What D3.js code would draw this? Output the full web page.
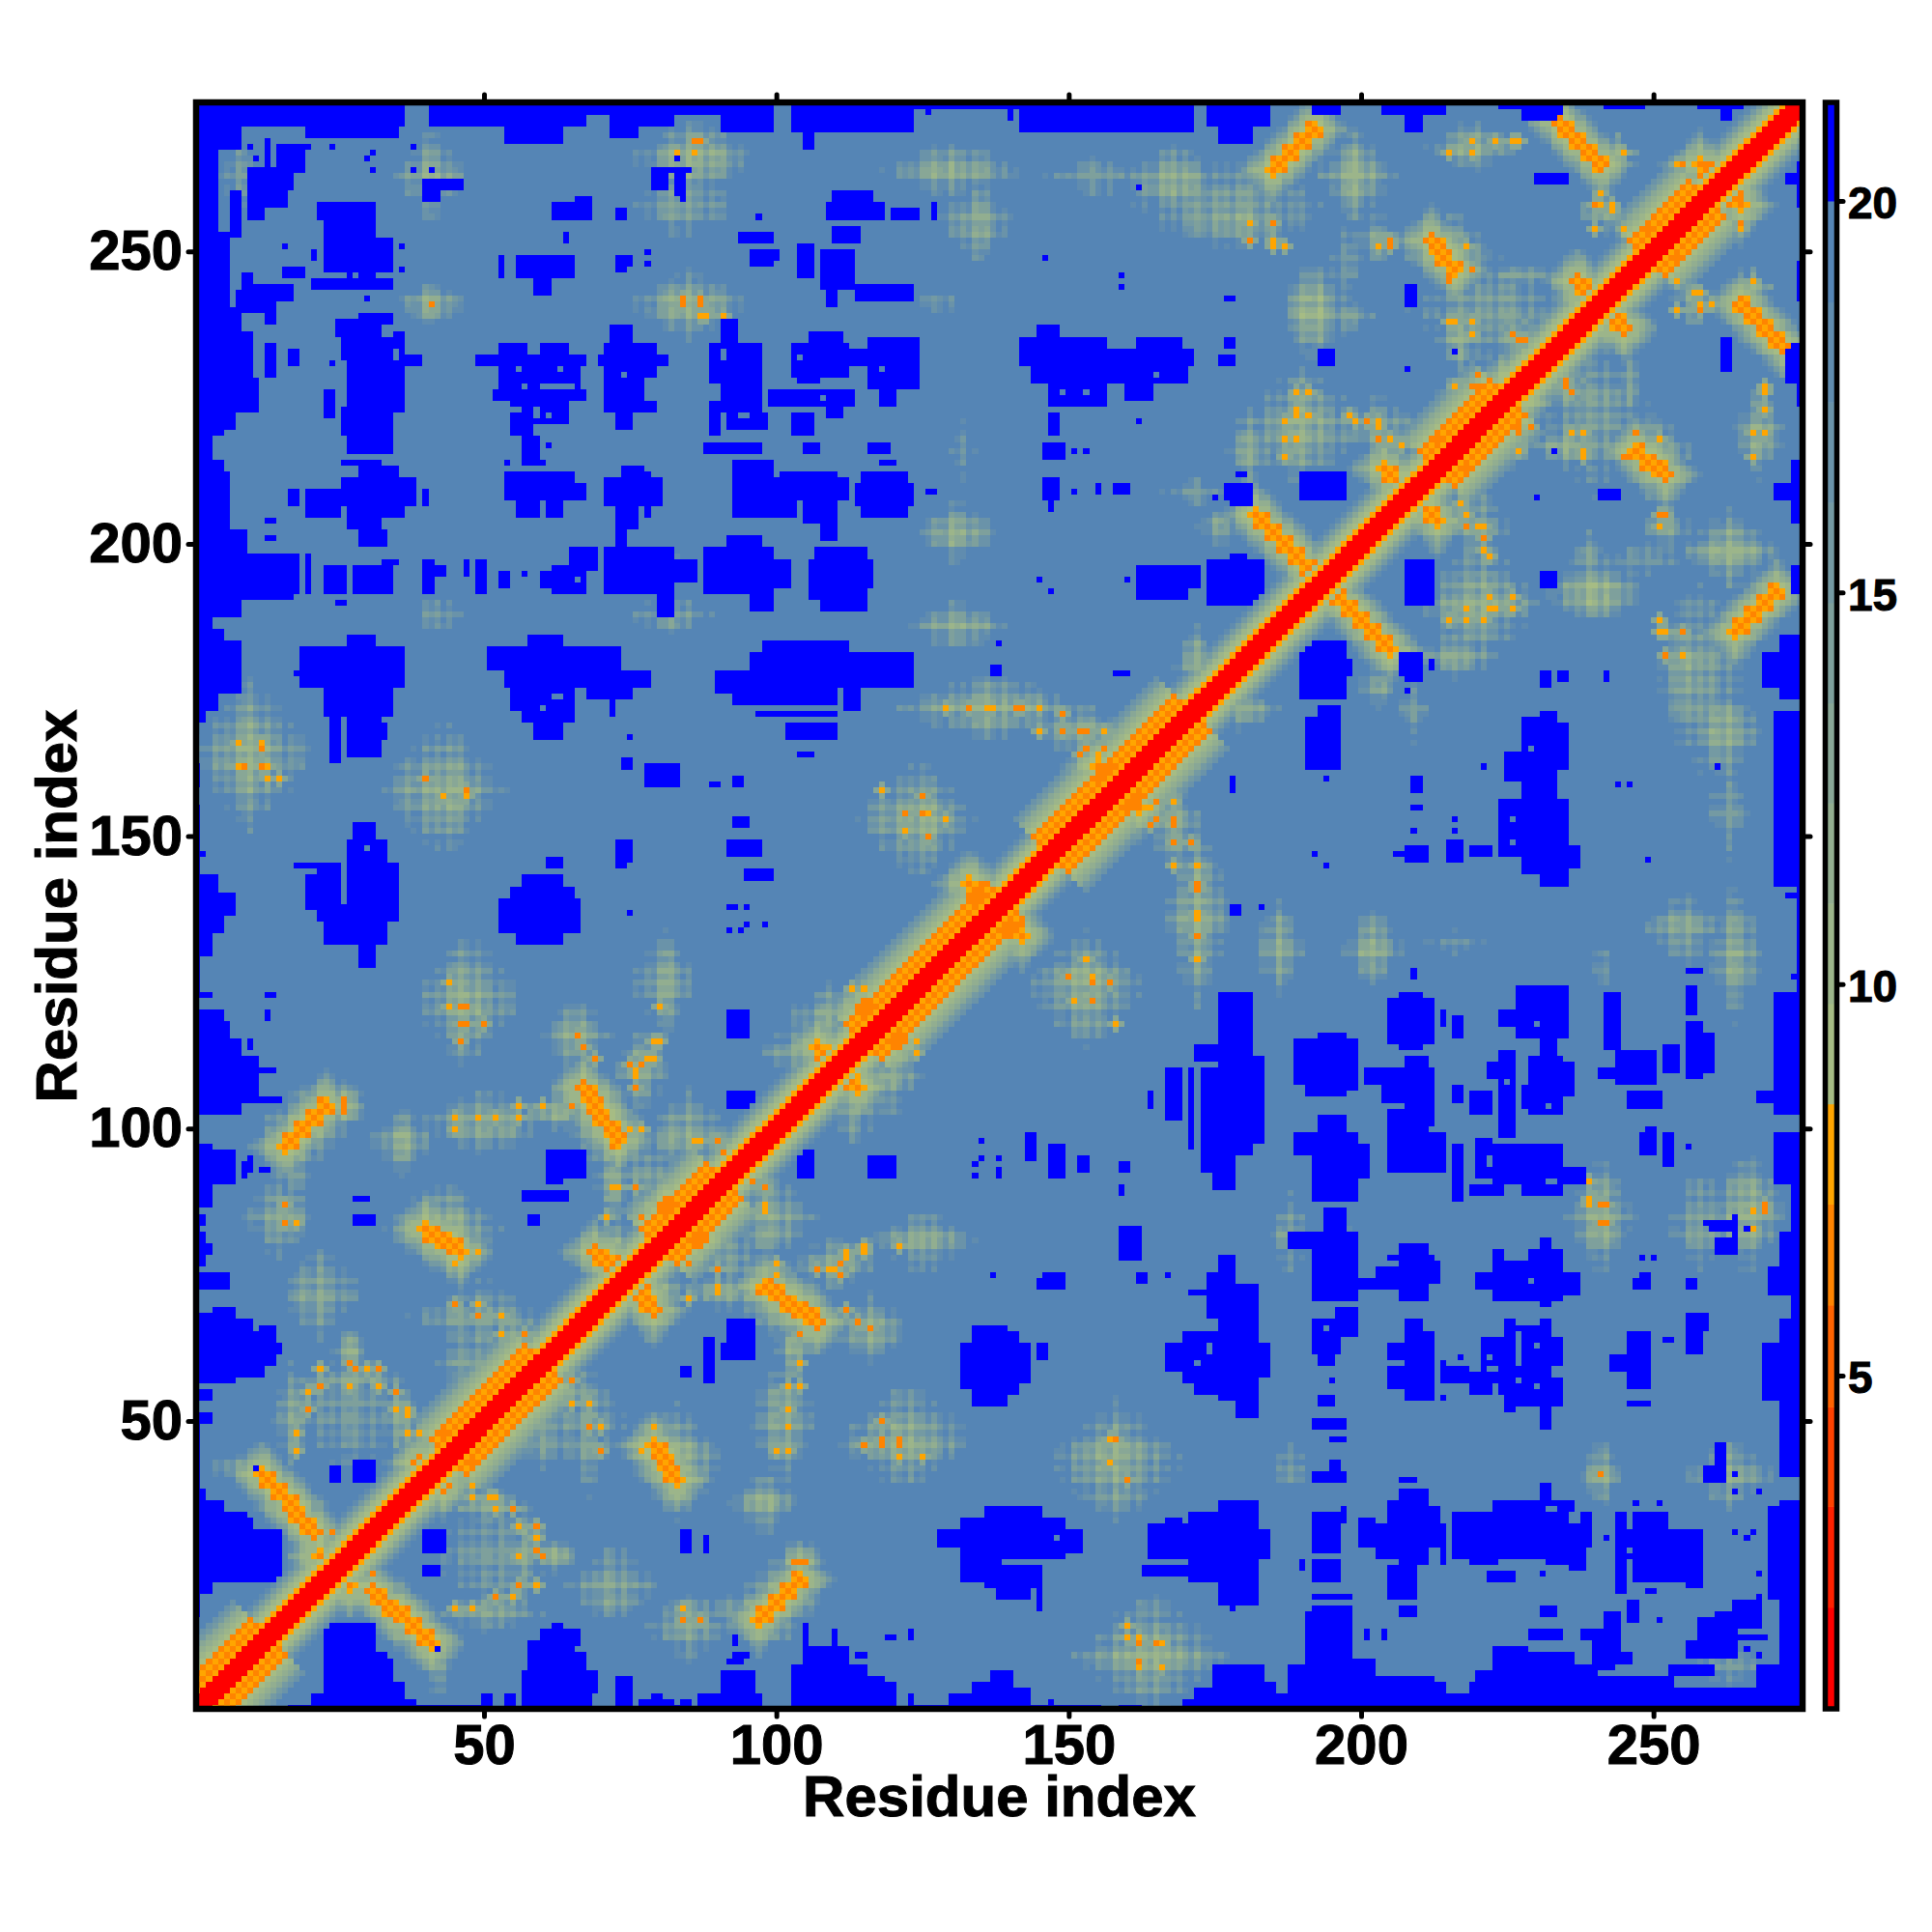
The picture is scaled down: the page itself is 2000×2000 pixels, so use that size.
<!DOCTYPE html>
<html lang="en">
<head>
<meta charset="UTF-8">
<title>Residue distance map</title>
<script src="https://cdnjs.cloudflare.com/ajax/libs/d3/7.8.5/d3.min.js"></script>
<style>
  html, body { margin: 0; background: #fff; }
  text { font-family: "Liberation Sans", Arial, sans-serif; font-weight: bold; fill: #000; stroke: #000; stroke-width: 1px; }
</style>
</head>
<body>
<div id="chart"></div>
<script>
// axis
var residueCount = 275;
var tickValues = [50, 100, 150, 200, 250];
var legendTicks = [5, 10, 15, 20];

// colour key: band edges and the colour of each band
var legendBreaks = [0.77, 2.04, 3.33, 4.6, 5.9, 7.19, 8.47, 9.75, 11.03, 12.31, 13.59, 14.87, 16.15, 17.43, 18.71, 20, 21.25];
var legendColors = ["#FF0000", "#FF2100", "#FF4200", "#FF6300", "#FF8400", "#FFA500",
  "#A6BC84", "#9CB58A", "#92AE90", "#88A796", "#7EA09C", "#749AA3", "#6A93A9", "#608CAF", "#5585B5", "#0000FF"];

// everything is symmetric so only one side of the diagonal is listed
var backgroundValue = 19.5;
var blueValue = 21;

// distance by offset from the diagonal
var helixProfile = [1.5, 1.5, 1.5, 7.6, 6.5, 7.8, 6.8, 9.4, 10.5, 12, 13.5, 15, 17];
var coilProfile = [1.5, 1.5, 1.5, 7.6, 9.5, 11, 13, 15, 18];
var helixSegments = [[2, 13], [44, 60], [80, 91], [115, 139], [147, 171], [213, 225], [249, 259]];

// blue blocks: x from, x to, y from, y to
var edgeBlue = [
  [1,36,272,275],[20,35,270,272],[1,8,268,272],[1,4,253,268],[1,6,240,253],[1,8,236,240],[1,10,228,236],[1,11,223,228],
  [1,7,220,223],[1,5,219,220],[1,3,214,219],[1,5,212,214],[1,6,202,212],[1,9,198,202],[1,17,191,198],[1,8,188,191],
  [1,3,185,188],[1,5,183,185],[1,8,175,183],[1,4,172,175],[1,2,170,172],[1,1,159,162],[1,1,132,155],[1,2,147,147],
  [1,4,140,143],[1,7,137,140],[1,5,134,137],[1,3,130,134],[1,1,123,130],[1,3,123,123],[1,5,118,120],[1,6,115,118],
  [1,8,112,115],[1,11,105,112],[1,14,110,110],[1,15,105,105],[1,8,103,105],[1,3,96,96],[1,7,92,96],[1,3,90,92],[1,2,88,90],
  [1,1,80,85],[4,7,68,69],[1,10,65,67],[1,14,60,65],[1,15,62,63],[1,11,58,60],[1,6,57,57],[1,2,54,55],[1,3,50,51],[1,1,46,49],
  [1,1,38,45],[1,2,36,37],[1,5,34,36],[1,9,31,34],[1,15,28,30],[1,15,23,28],[1,3,21,22],[1,1,17,21],
  [41,67,272,275],[54,63,269,272],[68,71,274,275],[72,76,270,275],[77,82,272,275],[83,90,274,275],[91,99,271,275],
  [103,123,271,275],[105,106,268,270],[124,141,275,275],[126,126,274,274],[140,140,273,275],[142,171,271,275],
  [174,184,272,275],[176,181,269,272],[192,196,274,275],[204,214,274,275],[208,210,271,274],[224,228,275,275],[228,234,273,275],
  [242,248,275,275],[258,265,275,275],[262,263,273,275]
];
var upperLeftBlue = [
  [10,17,261,264],[10,16,258,261],[10,12,256,258],[7,8,253,260],[15,19,264,268],[13,13,265,269],[10,10,268,268],[11,11,266,266],
  [20,20,268,268],[24,24,268,268],[31,31,267,267],[30,30,266,266],[31,31,264,264],[38,38,268,268],[38,38,264,264],[41,41,264,264],
  [40,46,261,262],[40,42,259,261],[79,85,264,264],[79,81,261,264],[83,84,260,264],[84,84,259,261],[83,83,266,266],
  [62,68,256,258],[66,68,258,259],[64,64,258,258],[73,74,256,257],[97,97,256,256],[64,64,252,253],
  [56,65,246,249],[53,53,246,249],[59,61,243,245],[73,74,247,249],[75,75,248,249],[78,78,248,248],[78,78,250,250],
  [9,10,240,246],[10,17,242,244],[8,14,240,243],[13,14,238,240],[30,30,242,242],[17,18,231,233],[13,14,229,234],[24,24,231,231],
  [22,31,256,258],[23,31,252,255],[23,34,247,252],[27,31,245,247],[21,34,244,245],[16,16,251,251],[16,19,246,247],[21,21,249,250],[36,36,251,251],[36,36,247,247],
  [29,34,238,239],[25,34,236,238],[26,36,232,236],[27,39,231,232],[27,36,223,231],[26,34,219,223],[27,34,216,219],[29,32,216,216],[26,32,214,214],[23,24,222,226],
  [29,35,211,213],[26,38,207,211],[27,36,205,206],[27,32,203,204],[29,33,200,202],[20,25,205,209],[17,18,207,209],[13,14,204,204],[40,40,207,209],
  [53,57,232,234],[60,64,232,234],[49,67,231,232],[53,66,227,231],[52,67,225,226],[55,64,221,224],[55,58,219,220],[57,59,214,218],[61,61,217,217],[54,54,214,214],[60,60,214,214],
  [72,75,234,237],[71,79,229,234],[70,81,231,232],[71,77,223,229],[72,79,223,224],[73,75,220,222],
  [91,93,235,238],[89,97,228,234],[91,97,223,228],[89,90,219,224],[92,98,220,222],[88,97,216,217],
  [93,99,208,214],[93,99,205,207],[71,80,207,211],[73,76,203,207],[74,77,211,213],[78,78,205,212],[73,74,200,202],
  [54,59,208,212],[60,65,211,212],[54,67,208,210],[56,59,205,207],[61,63,205,207],
  [71,82,192,199],[82,86,194,197],[88,99,192,199],[92,97,199,201],[62,67,192,196],[65,69,196,199],[23,26,192,196],[28,34,192,196],[18,18,192,198],[20,20,192,198],
  [80,82,188,192],[33,35,197,197],[40,41,192,197],[40,43,195,196],[47,47,195,197],[49,50,192,197],[53,54,193,195],[57,57,195,195],[60,62,193,195],[25,26,190,190],[13,14,201,201]
];
var upperMidBlue = [
  [110,116,259,260],[109,118,256,258],[120,123,256,257],[124,124,256,257],[127,127,256,258],[110,114,252,254],[104,106,246,251],[108,113,248,250],[108,113,244,247],
  [109,110,241,244],[114,123,242,244],[94,99,252,253],[96,99,248,250],[99,100,249,250],
  [106,111,234,236],[103,112,229,234],[104,107,228,229],[112,115,231,233],[116,124,227,235],[118,120,224,227],[99,113,224,226],[109,111,222,226],[103,106,219,222],
  [105,107,216,217],[116,119,216,217],[118,120,214,214],[115,122,205,212],[114,123,207,210],[126,127,209,209],[101,110,211,212],[97,112,208,211],[98,103,205,208],[105,110,204,208],
  [145,148,235,237],[142,156,233,235],[142,171,231,233],[144,170,228,231],[147,156,224,228],[160,164,225,228],[162,169,233,235],[176,178,231,232],[177,178,234,235],
  [147,148,219,222],[146,149,215,217],[151,151,216,216],[153,153,216,216],[146,148,208,211],[147,147,206,207],[151,151,209,209],[155,155,209,210],[158,160,209,210],
  [162,170,191,195],[174,183,190,197],[178,180,197,198],[108,110,201,203],[107,115,198,199],[106,116,193,197],[106,115,191,193],[108,115,189,191],[96,102,193,197],[96,99,189,193],
  [98,112,179,183],[112,123,179,181],[96,123,176,181],[96,110,173,176],[102,110,167,169],[97,110,171,171],[104,106,164,164],[112,114,172,175],
  [137,138,178,179],[158,160,178,178],[146,146,249,249],[159,159,246,246],[159,159,244,244],[177,178,242,242],[162,162,221,221],[162,162,261,261],
  [179,180,212,212],[177,179,208,210],[175,175,208,208],[138,138,183,183],[145,145,194,194],[147,147,192,192],[160,160,194,194],
  [230,235,262,263],[208,209,241,244],[216,216,233,233],[193,195,231,233],[208,208,230,230],[191,197,208,212],[208,212,190,197],[231,232,193,194],[190,196,174,183],[193,196,162,172],[207,210,178,181]
];
var lowerLeftBlue = [
  [19,36,176,182],[27,31,183,184],[23,34,171,176],[27,32,164,171],[24,25,163,171],[32,33,167,169],[18,19,178,178],
  [51,73,179,182],[58,63,182,184],[54,78,176,178],[55,65,172,175],[68,75,174,177],[57,65,170,172],[59,63,167,170],[72,72,171,174],[75,75,167,167],
  [90,99,175,178],[93,98,173,175],[28,31,150,152],[27,33,145,149],[22,35,136,145],[23,33,132,135],[29,31,128,131],[18,21,145,145],[20,21,138,143],
  [61,63,145,146],[57,63,142,143],[55,65,139,141],[53,66,134,139],[56,63,132,134],[73,75,146,149],[73,74,145,145],
  [74,75,162,163],[78,83,159,162],[89,90,159,159],[93,94,159,160],[93,95,152,153],[92,97,147,149],[95,99,143,144],[92,93,138,138],[95,95,138,138],[95,95,135,135],[98,98,135,135],[92,92,134,134],[94,94,134,134],[75,75,137,137],
  [92,95,116,120],[92,96,104,106],[61,67,92,96],[61,63,91,93],[57,64,88,89],[58,59,84,85],[28,30,88,88],[28,31,84,85],[10,10,93,95],[9,9,93,93],[13,13,93,93],
  [10,10,114,115],[13,14,123,123],[13,13,119,120],[24,25,40,42],[28,31,40,43],[11,11,42,42],
  [23,26,12,14],[27,31,10,15],[23,33,7,10],[23,34,1,7],[33,36,1,5],[21,23,1,3],[37,38,1,2],[17,21,1,1],[42,42,11,11],
  [60,66,12,14],[58,64,9,12],[58,67,10,10],[59,67,8,8],[57,69,5,7],[57,68,1,4],[50,51,1,3],[54,55,1,3],
  [73,75,1,6],[77,78,1,2],[79,80,1,3],[81,82,1,2],[84,85,1,2],[87,90,1,3],[91,95,1,7],[95,97,1,3],[92,94,9,9],[93,93,12,12]
];
// holes inside the blue blocks
var blueGaps = [
  [26,26,139,145],[56,56,230,230],[63,63,230,230],[60,65,227,227],[57,57,227,227],[55,56,223,223],[59,59,222,223],[61,61,222,222],
  [91,91,232,233],[94,95,222,222],[33,34,236,237],[35,35,232,233],[74,74,229,229],[28,28,246,246],[60,60,172,172],[62,63,174,174],
  [30,30,148,148],[108,108,225,225],[118,118,230,230],[104,104,232,232],[149,149,226,226],[153,153,226,226],[165,165,229,229],[66,66,194,194]
];

// soft glow patches: centre x, centre y, reach x, reach y, lowest value
var glowPatches = [
  [8,263,3,6,14],[41,263,5,7,11],[86,266,9,6,10],[84,258,8,5,13],[41,241,5,3.5,10],[85,241,9,5,10],[42,188,4,3,14],[82,188,7,3,13],[83,197,2,2,15],
  [10,164,9,11,11],[43,158,9,10,11],[47,122,8,10,11],[81,125,5,8,12],[66,116,5,6,11],[77,110,4,7,11],
  [19,100,7,6,9],[26,104,4,4,10],[36,98,5,5,11],[50,101,10,5,11],[62,103,6,3,11],[71,100,6,7,9],[85,98,10,3,11],[72,91,3,7,12],
  [15,85,5,7,12],[17,92,3,4,14],[22,72,6,7,12],[27,62,3,4,11],[43,83,9,7,10],[46,68,8,3,13],[72,79,8,5,11],
  [17,51,3,8,12],[27,57,8,3,12],[35,51,3,7,12],[27,52,11,9,14],[8,42,5,2,12],[51,68,7,3,12],[56,65,4,4,12],[50,67,9,6,13],[48,60,6,5,13],[85,100,6,6,12],[78,92,6,5,13],
  [130,264,11,4,11],[134,255,6,6,12],[155,263,8,3,14],[168,262,7,6,10],[178,255,13,3,11],[178,258,14,7,13],[192,240,5,8,9],[190,220,10,9,11],[181,216,4,6,12],[199,263,6,7,10],
  [172,209,5,2,14],[176,203,4,3,12],[131,202,6,4.5,10],[131,186,7,4,11],[132,216,2,5,15],[128,241,5,1.5,15],[172,180,4,5,12],
  [137,172,15,5,11],[152,168,8,4,12],[124,153,9,9,11],[109,119,7,5,12],[105,113,7,5,12],
  [219,268,7,4,11],[244,267,3,3,11],[257,265,5,3,11],[241,257,4,4,12],[203,252,4,4,12],[197,239,5,3,13],[215,250,7,6,11],[217,235,4,5,11],[222,240,12,8,13],[228,246,7,2,13],[227,235,5,4,12],[218,226,5,4,12],[203,220,6,5,12],
  [197,248,3,6,15],[238,226,3,3,14]
];
var glowSpread = 1.25;

// lattice texture: small value shifts per residue, read as a repeating stripe
var latticeX = [0, -1.5, 1, 2.2, -1, 1.4, 0.4, 2.6, -0.6];
var latticeY = [1.6, -1, 0.6, 2.4, -1.2, 1, 0];

// strands: x0, y0, x1, y1, value
var strands = [
  [12,41,21,31,6.6],[16,97,23,104,6.6],[67,107,73,98,6.8],[40,83,46,79,6.6],[185,264,192,271,6.8],[234,272,241,265,7],[212,252,216,247,6.6],
  [182,205,191,196,6.8],[204,213,208,209,6.6],[237,245,240,241,6.8],[133,142,137,137,6.6],[107,114,111,109,6.6],[115,121,117,118,6.6],[155,162,159,158,6.6],
  [69,79,75,74,6.6],[22,27,26,24,6.6],[43,48,47,45,6.6],[39,43,41,41,6.6],[81,87,85,83,6.6],[249,254,252,252,6.6],[258,265,260,263,6.8],[224,227,226,225,6.6],[213,218,216,215,6.6]
];
var strandHalo = [9.6, 10.5, 12.5, 15, 18];

// single contacts: x, y, value
var spots = [
  [41,241,6],[86,269,6],[87,269,6.4],[83,267,7.6],[86,267,7.6],[84,242,6.4],[84,241,6.4],[87,242,6.4],[87,241,6.4],[87,239,7.6],[88,239,7.6],[91,239,7.6],
  [8,166,7.6],[12,166,7.6],[12,165,6],[8,162,7.6],[9,162,6],[12,162,6],[13,162,7.6],[13,160,7.6],[15,160,7.6],
  [40,160,6.5],[43,157,7.6],[47,158,6],[47,157,7.6],[44,125,7.6],[44,121,7.6],[46,121,6],[47,121,6.5],[46,118,7],[47,118,7],[50,118,6.5],[46,115,6],
  [80,121,7.6],[66,116,6.5],[67,114,6],[69,112,6],[79,115,7.6],[80,115,7.6],[78,112,7.6],[79,112,7.6],[75,111,6],[76,110,7.6],[76,109,7.6],[77,111,6.5],[76,107,6],
  [56,104,7.6],[60,104,7.6],[65,104,6],[45,102,7.6],[49,102,7.6],[52,102,7.6],[56,102,7.6],[45,100,7.6],[75,100,7.6],[77,100,7.6],[86,98,7.6],[87,98,7.6],[90,98,6],[91,96,6.5],
  [72,90,7.6],[73,90,7.6],[76,90,6],[71,85,7.6],[77,85,6],[16,87,6],[16,84,6],[18,84,7.6],[26,103,6],[26,104,6],[26,105,6],
  [45,77,7.6],[49,79,7.6],[45,70,6],[49,70,7.6],[49,68,6],[53,68,7.6],[53,65,7.6],[57,65,6.5],[57,63,7.6],
  [22,59,7.6],[27,60,6.5],[28,59,6],[30,59,7.6],[32,59,6],[22,56,6.5],[27,56,7.6],[32,56,7.6],[20,55,7.6],[35,55,6],[20,52,6],[35,52,7.6],[37,52,7.6],[37,51,7.6],[18,48,7.6],[37,48,7.6],[39,48,7.6],[18,45,7.6],[24,31,6],[27,31,6],
  [129,172,7.6],[133,172,6.5],[136,172,7.6],[137,172,7.6],[141,172,6],[142,172,6.5],[145,172,7.6],[149,171,6.5],[145,168,7.6],[149,168,6.5],[152,168,6.5],[153,168,6],[156,168,7.6],[153,165,6],[156,165,6],[152,164,6.5],[155,164,7.6],[158,164,7.6],
  [118,158,7.6],[125,157,6.5],[122,154,6],[125,154,6],[126,154,7.6],[129,153,7.6],[122,151,7.6],[126,150,6],[113,124,7.6],[115,124,7.6],[107,114,6],[109,114,7.6],
  [215,267,7.6],[219,269,7.6],[219,267,7.6],[223,269,7.6],[226,269,7.6],[227,269,7.6],[245,267,7.6],[254,265,7.6],[255,265,6.5],[258,265,6.5],[259,265,6.5],[259,262,6.5],
  [241,260,7.6],[240,258,6.5],[241,258,7.6],[243,258,7.6],[243,257,7.6],[240,254,7.6],[245,254,7.6],[181,255,7.6],[185,255,6.5],[181,252,6.5],[185,252,7.6],[185,251,7.6],[187,251,7.6],[203,251,7.6],[205,251,6],[205,252,6],
  [218,251,7.6],[219,247,6.5],[215,245,6],[215,238,7.6],[216,238,7.6],[219,238,7.6],[219,236,7.6],[226,236,6.5],[227,235,6.5],[228,235,6.5],
  [216,227,7.6],[219,227,6.5],[220,227,6.5],[220,229,6],[189,226,7.6],[191,226,7.6],[187,221,7.6],[189,222,7.6],[189,223,7.6],[191,222,7.6],[198,222,7.6],[199,221,7.6],[201,221,6.5],[203,221,7.6],[203,220,7.6],[187,218,7.6],[189,218,7.6],[203,218,6.5],[205,218,7.6],[207,217,7.6],[187,215,7.6]
];

var z = d3.range(residueCount + 1).map(function () {
  return new Float32Array(residueCount + 1).fill(backgroundValue);
});

function lower(x, y, v) {
  if (x < 1 || y < 1 || x > residueCount || y > residueCount) return;
  if (v < z[y][x]) { z[y][x] = v; z[x][y] = v; }
}

// glow first, blue is painted over it
glowPatches.forEach(function (p) {
  var rx = p[2] * glowSpread, ry = p[3] * glowSpread;
  for (var x = Math.floor(p[0] - rx); x <= p[0] + rx; x++) {
    for (var y = Math.floor(p[1] - ry); y <= p[1] + ry; y++) {
      if (x < 1 || y < 1) continue;
      var reach = Math.pow(Math.abs(x - p[0]) / rx, 1.1) + Math.pow(Math.abs(y - p[1]) / ry, 1.1);
      if (reach >= 1) continue;
      var v = p[4] + (backgroundValue - p[4]) * Math.pow(reach, 1.3) + latticeX[x % 9] + latticeY[y % 7];
      lower(x, y, Math.max(p[4], v));
    }
  }
});

function strandPoints(s) {
  var steps = Math.max(Math.abs(s[2] - s[0]), Math.abs(s[3] - s[1]));
  return d3.range(steps + 1).map(function (k) {
    return [Math.round(s[0] + (s[2] - s[0]) * k / steps), Math.round(s[1] + (s[3] - s[1]) * k / steps)];
  });
}
var haloReach = strandHalo.length + 1;
strands.forEach(function (s) {
  strandPoints(s).forEach(function (pt) {
    for (var dx = -haloReach; dx <= haloReach; dx++) {
      for (var dy = -haloReach; dy <= haloReach; dy++) {
        var dist = Math.abs(dx) + Math.abs(dy);
        if (dist >= 2 && dist - 2 < strandHalo.length) lower(pt[0] + dx, pt[1] + dy, strandHalo[dist - 2] + latticeX[(pt[0] + dx + 270) % 9] * 0.5);
      }
    }
  });
});
spots.forEach(function (s) {
  [[1, 0], [-1, 0], [0, 1], [0, -1]].forEach(function (o) { lower(s[0] + o[0], s[1] + o[1], 12.5); });
});

[edgeBlue, upperLeftBlue, upperMidBlue, lowerLeftBlue].forEach(function (list) {
  list.forEach(function (b) {
    for (var x = b[0]; x <= b[1]; x++) {
      for (var y = b[2]; y <= b[3]; y++) {
        z[y][x] = blueValue;
        z[x][y] = blueValue;
      }
    }
  });
});
blueGaps.forEach(function (b) {
  for (var x = b[0]; x <= b[1]; x++) {
    for (var y = b[2]; y <= b[3]; y++) {
      z[y][x] = backgroundValue;
      z[x][y] = backgroundValue;
    }
  }
});

// contacts and diagonal go on top
strands.forEach(function (s) {
  var anti = (s[2] - s[0]) * (s[3] - s[1]) < 0;
  var across = anti ? [[1, 1], [-1, -1]] : [[1, -1], [-1, 1]];
  strandPoints(s).forEach(function (pt, k) {
    var core = [[0, 0], [1, 0], [0, 1], [-1, 0], [0, -1]].concat(k % 2 ? across : []);
    core.forEach(function (o) {
      var cx = pt[0] + o[0], cy = pt[1] + o[1];
      var v = (cx + cy) % 2 ? s[4] : s[4] + 1;
      z[cy][cx] = v; z[cx][cy] = v;
    });
  });
});
spots.forEach(function (s) { z[s[1]][s[0]] = s[2]; z[s[0]][s[1]] = s[2]; });

function inHelix(m) {
  return helixSegments.some(function (h) { return m >= h[0] && m <= h[1]; });
}
for (var i = 1; i <= residueCount; i++) {
  for (var j = i; j <= residueCount; j++) {
    var profile = inHelix((i + j) / 2) ? helixProfile : coilProfile;
    var d = j - i;
    if (d < profile.length) {
      if (d < 5 || profile[d] < z[j][i]) { z[j][i] = profile[d]; z[i][j] = profile[d]; }
    }
  }
}

var cells = [];
for (var yi = 1; yi <= residueCount; yi++) {
  for (var xi = 1; xi <= residueCount; xi++) {
    cells.push({ x: xi, y: yi, v: z[yi][xi] });
  }
}

var width = 2000, height = 2000;
var plotLeft = 204.4, plotRight = 1863, plotTop = 109, plotBottom = 1767.5;

var xScale = d3.scaleLinear().domain([1, residueCount]).range([plotLeft, plotRight]);
var yScale = d3.scaleLinear().domain([1, residueCount]).range([plotBottom, plotTop]);
var color = d3.scaleThreshold().domain(legendBreaks.slice(1, -1)).range(legendColors);
var legendY = d3.scaleLinear().domain([5, 20]).range([1424, 208]);

var svg = d3.select("#chart").append("svg")
  .attr("width", width)
  .attr("height", height);

svg.append("defs").append("clipPath")
  .attr("id", "plot-clip")
  .append("rect")
  .attr("x", 203).attr("y", 106).attr("width", 1663).attr("height", 1663);

svg.append("g")
  .attr("clip-path", "url(#plot-clip)")
  .attr("shape-rendering", "crispEdges")
  .selectAll("rect")
  .data(cells)
  .enter().append("rect")
  .attr("x", function (d) { return xScale(d.x - 0.5); })
  .attr("y", function (d) { return yScale(d.y + 0.5); })
  .attr("width", xScale(2) - xScale(1) + 0.5)
  .attr("height", yScale(1) - yScale(2) + 0.5)
  .attr("fill", function (d) { return color(d.v); });

function styleTicks(g) {
  g.select(".domain").remove();
  g.selectAll(".tick line")
    .attr("stroke", "#000")
    .attr("stroke-width", 5)
    .attr("stroke-linecap", "round");
}

svg.append("g")
  .attr("transform", "translate(0,1769)")
  .call(d3.axisBottom(xScale).tickValues(tickValues).tickSize(8).tickPadding(8))
  .call(styleTicks)
  .selectAll("text").style("font-size", "58px").attr("fill", "#000");
svg.append("g")
  .attr("transform", "translate(0,106)")
  .call(d3.axisTop(xScale).tickValues(tickValues).tickSize(8).tickFormat(""))
  .call(styleTicks);
svg.append("g")
  .attr("transform", "translate(203,0)")
  .call(d3.axisLeft(yScale).tickValues(tickValues).tickSize(8).tickPadding(6))
  .call(styleTicks)
  .selectAll("text").style("font-size", "58px").attr("fill", "#000");
svg.append("g")
  .attr("transform", "translate(1866,0)")
  .call(d3.axisRight(yScale).tickValues(tickValues).tickSize(8).tickFormat(""))
  .call(styleTicks);

svg.append("rect")
  .attr("x", 203).attr("y", 106).attr("width", 1663).attr("height", 1663)
  .attr("fill", "none").attr("stroke", "#000").attr("stroke-width", 6.5);

svg.append("text")
  .attr("x", 1034.5).attr("y", 1880)
  .attr("text-anchor", "middle")
  .style("font-size", "60px")
  .text("Residue index");
svg.append("text")
  .attr("transform", "translate(79,938) rotate(-90)")
  .attr("text-anchor", "middle")
  .style("font-size", "60px")
  .text("Residue index");

// colour key
var legend = svg.append("g");
legend.selectAll("rect")
  .data(legendColors)
  .enter().append("rect")
  .attr("x", 1889.5)
  .attr("width", 12)
  .attr("y", function (d, k) { return legendY(legendBreaks[k + 1]); })
  .attr("height", function (d, k) { return legendY(legendBreaks[k]) - legendY(legendBreaks[k + 1]) + 0.5; })
  .attr("fill", function (d) { return d; });
legend.append("rect")
  .attr("x", 1889.5).attr("y", 106).attr("width", 12).attr("height", 1663)
  .attr("fill", "none").attr("stroke", "#000").attr("stroke-width", 5.5);
svg.append("g")
  .attr("transform", "translate(1904,0)")
  .call(d3.axisRight(legendY).tickValues(legendTicks).tickSize(4).tickPadding(5))
  .call(styleTicks)
  .selectAll("text").style("font-size", "46px").attr("fill", "#000").attr("dy", "0.39em");
</script>
</body>
</html>
